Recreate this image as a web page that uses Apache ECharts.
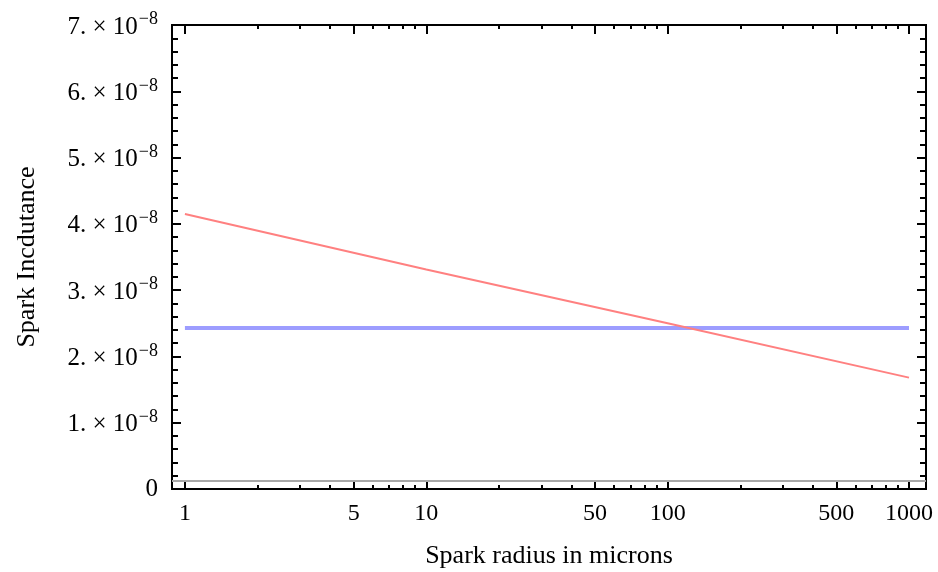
<!DOCTYPE html>
<html>
<head>
<meta charset="utf-8">
<script src="https://cdn.jsdelivr.net/npm/echarts@6/dist/echarts.min.js"></script>
<style>
html,body{margin:0;padding:0;background:#fff;}
#chart{width:938px;height:572px;}
</style>
</head>
<body>
<div id="chart"></div>
<script>
// Data
const radiusMicrons = [1, 10, 100, 1000];
const inductanceRed = [4.15e-8, 3.31e-8, 2.50e-8, 1.68e-8];
const inductanceBlue = [2.43e-8, 2.43e-8, 2.43e-8, 2.43e-8];
const grayX = [0.884, 1176];
const grayY = [0.12e-8, 0.12e-8];
const xMajorTicks = [1, 5, 10, 50, 100, 500, 1000];
const xMinorTicks = [2, 3, 4, 6, 7, 8, 9, 20, 30, 40, 60, 70, 80, 90, 200, 300, 400, 600, 700, 800, 900];
const xRange = [0.884, 1176];
const yRange = [0, 7e-8];
const yStep = 1e-8;

const FONT = 'Liberation Serif';
const chart = echarts.init(document.getElementById('chart'));

function pairs(xs, ys) { return xs.map((x, i) => [x, ys[i]]); }

function xAxisDef(pos, ticks, len, labels) {
  return {
    type: 'log', logBase: 10, min: xRange[0], max: xRange[1], position: pos,
    axisLine: { show: true, onZero: false, lineStyle: { color: '#000', width: 2 } },
    axisTick: { show: true, inside: true, length: len, customValues: ticks, lineStyle: { color: '#000', width: 2 } },
    axisLabel: labels ? {
      show: true, customValues: ticks, margin: 13,
      fontFamily: FONT, fontSize: 24, color: '#000',
      formatter: v => String(Math.round(v))
    } : { show: false },
    splitLine: { show: false }, minorTick: { show: false }, minorSplitLine: { show: false }
  };
}

const xAxes = [
  Object.assign(xAxisDef('bottom', xMajorTicks, 9, true), {
    name: 'Spark radius in microns', nameLocation: 'middle', nameGap: 54,
    nameTextStyle: { fontFamily: FONT, fontSize: 26, color: '#000' }
  }),
  xAxisDef('bottom', xMinorTicks, 4, false),
  xAxisDef('top', xMajorTicks, 9, false),
  xAxisDef('top', xMinorTicks, 4, false)
];

function yAxisDef(pos, labels) {
  return {
    type: 'value', min: yRange[0], max: yRange[1], interval: yStep, position: pos,
    axisLine: { show: true, onZero: false, lineStyle: { color: '#000', width: 2 } },
    axisTick: { show: true, inside: true, length: 9, lineStyle: { color: '#000', width: 2 } },
    minorTick: { show: true, splitNumber: 5, length: 6, lineStyle: { color: '#000', width: 2 } },
    axisLabel: labels ? {
      show: true, margin: 14, color: '#000',
      formatter: v => {
        const n = Math.round(v / yStep);
        if (n === 0) return '{z|0}';
        return '{m|' + n + '. \u00d7 10}{s|\u22128}';
      },
      rich: {
        z: { fontFamily: FONT, fontSize: 25, color: '#000' },
        m: { fontFamily: FONT, fontSize: 25, color: '#000', verticalAlign: 'bottom', padding: [0, 0, 0, 0] },
        s: { fontFamily: FONT, fontSize: 18, color: '#000', verticalAlign: 'bottom', padding: [0, 0, 11, 1] }
      }
    } : { show: false },
    splitLine: { show: false }, minorSplitLine: { show: false }
  };
}

const yAxes = [
  Object.assign(yAxisDef('left', true), {
    name: 'Spark Incdutance', nameLocation: 'middle', nameGap: 132,
    nameTextStyle: { fontFamily: FONT, fontSize: 26, color: '#000' }
  }),
  yAxisDef('right', false)
];

chart.setOption({
  backgroundColor: '#fff',
  animation: false,
  grid: { left: 172, right: 12, top: 25, bottom: 83, containLabel: false, outerBoundsMode: 'none' },
  xAxis: xAxes,
  yAxis: yAxes,
  series: [
    {
      type: 'line', xAxisIndex: 0, yAxisIndex: 0, showSymbol: false, silent: true,
      data: pairs(grayX, grayY),
      lineStyle: { color: '#a8a8a8', width: 2 }, z: 1
    },
    {
      type: 'line', xAxisIndex: 0, yAxisIndex: 0, showSymbol: false, silent: true,
      data: pairs(radiusMicrons, inductanceBlue),
      lineStyle: { color: '#9d9dff', width: 4 }, z: 2
    },
    {
      type: 'line', xAxisIndex: 0, yAxisIndex: 0, showSymbol: false, silent: true,
      data: pairs(radiusMicrons, inductanceRed),
      lineStyle: { color: '#ff8080', width: 2 }, z: 3
    }
  ]
});
</script>
</body>
</html>
